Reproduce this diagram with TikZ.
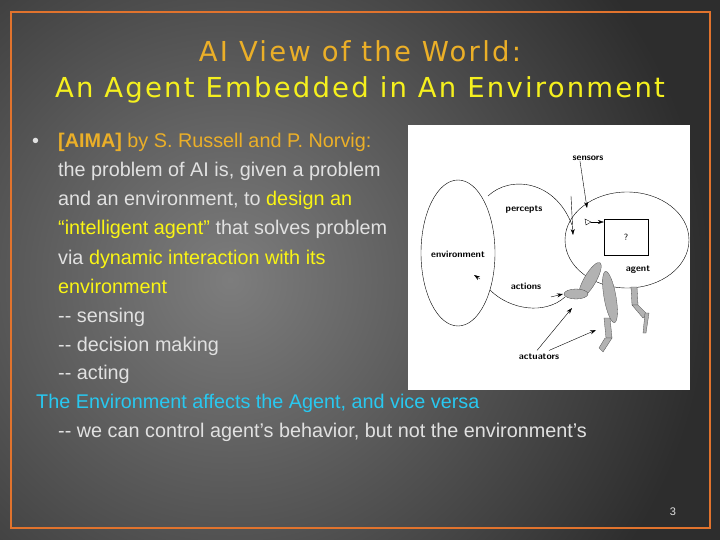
\documentclass[tikz,border=0pt]{standalone}
\usepackage{fontspec}
\setmainfont{Liberation Sans}
\newfontfamily\titlefont[LetterSpace=8]{DejaVu Sans}
\usetikzlibrary{arrows.meta}
\definecolor{ttlor}{RGB}{235,175,40}
\definecolor{ttlye}{RGB}{245,240,30}
\definecolor{bodyg}{RGB}{225,225,225}
\definecolor{hiye}{RGB}{250,245,20}
\definecolor{cy}{RGB}{40,200,240}
\definecolor{bord}{RGB}{225,115,45}
\definecolor{bgin}{RGB}{125,125,125}
\definecolor{bgout}{RGB}{45,45,45}
\begin{document}
\begin{tikzpicture}[x=1pt,y=-1pt,
  body/.style={anchor=base west,font=\fontsize{19.8}{21}\selectfont,text=bodyg,inner sep=0},
  lbl/.style={font=\fontsize{9.5}{10}\selectfont\sffamily\bfseries,inner sep=0.5},
  arr/.style={-{Stealth[length=6pt,width=4pt]},thin},
  limb/.style={fill=gray!60,draw=black!70,line width=0.3pt}]
\useasboundingbox (0,0) rectangle (720,540);
\fill[bgout] (0,0) rectangle (720,540);
\shade[inner color=bgin,outer color=bgout] (230,280) circle (480);
\draw[bord,line width=2.5pt] (11,12) rectangle (710,528);
\node[font=\titlefont\fontsize{27.5}{30}\selectfont,text=ttlor] (t1) at (360,51) {AI View of the World:};
\node[font=\titlefont\fontsize{27.5}{30}\selectfont,text=ttlye] (t2) at (360,90) {An Agent Embedded in An Environment};
% body text
\node[body] (b0) at (32,148) {•};
\node[body] (b1) at (58,148) {\textcolor{ttlor}{\textbf{[AIMA]} by S. Russell and P. Norvig:}};
\node[body] (b2) at (58,177) {the problem of AI is, given a problem};
\node[body] (b3) at (58,206) {and an environment, to \textcolor{hiye}{design an}};
\node[body] (b4) at (58,235) {\textcolor{hiye}{“intelligent agent”} that solves problem};
\node[body] (b5) at (58,264) {via \textcolor{hiye}{dynamic interaction with its}};
\node[body] (b6) at (58,293) {\textcolor{hiye}{environment}};
\node[body] (b7) at (58,322) {-{}- sensing};
\node[body] (b8) at (58,351) {-{}- decision making};
\node[body] (b9) at (58,379) {-{}- acting};
\node[body,text=cy] (b10) at (36,408) {The Environment affects the Agent, and vice versa};
\node[body] (b11) at (58,437) {-{}- we can control agent’s behavior, but not the environment’s};
\node[font=\fontsize{11}{12}\selectfont,text=bodyg] (pg) at (673,512) {3};
% figure
\fill[white] (408,125) rectangle (690,390);
\draw[thin] (458,253) ellipse (37 and 73);
\draw[thin] (627,240) ellipse (62 and 48);
\draw[thin] (488,196) .. controls (510,175) and (555,180) .. (572,225);
\draw[thin] (490,290) .. controls (510,310) and (545,315) .. (565,297);
\node[draw,thin,minimum width=44,minimum height=36,fill=white] (q) at (626,237) {\sffamily\small ?};
% limbs
\draw[limb,rotate around={60:(590,280)}] (590,280) ellipse (20 and 6);
\draw[limb] (576,294) ellipse (12 and 5);
\draw[limb,rotate around={-80:(610,297)}] (610,297) ellipse (26 and 6);
\draw[limb] (604,318) -- (610,318) -- (612,338) -- (606,338) -- cycle;
\draw[limb] (605,338) -- (612,338) -- (603,352) -- (599,348) -- cycle;
\draw[limb] (631,287) -- (637,287) -- (638,305) -- (632,305) -- cycle;
\draw[limb] (632,305) -- (638,305) -- (648,315) -- (643,318) -- cycle;
\draw[limb] (645,313) -- (649,313) -- (646,333) -- (643,333) -- cycle;
\node[lbl] (sens) at (588,158) {sensors};
\node[lbl] (perc) at (524,210) {percepts};
\node[lbl] (env) at (458,254) {environment};
\node[lbl] (act) at (526,286) {actions};
\node[lbl] (ag) at (638,270) {agent};
\node[lbl] (actu) at (539,357) {actuators};
\draw[thin] (585,219) -- (591,222) -- (586,225) -- cycle;
\draw[arr] (sens.south west) ++(8,0) -- (587,208);
\draw[arr] (591,222) -- (q.west|-591,222);
\draw[arr] (571,196) -- (573,235);
\draw[arr] (480,279) -- (474,275);
\draw[arr] (act.south) ++(25,7) -- (563,294);
\draw[arr] (actu.north) ++(-2,-3) -- (572,308);
\draw[arr] (actu.north) ++(10,-3) -- (596,330);
\end{tikzpicture}
\end{document}
